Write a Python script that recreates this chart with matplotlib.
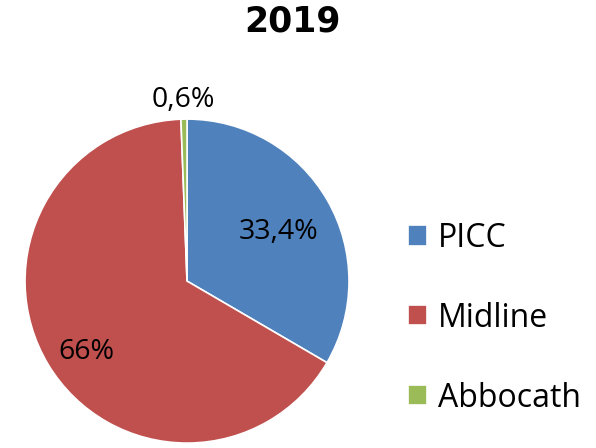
import matplotlib
matplotlib.use("Agg")
import matplotlib.pyplot as plt
import numpy as np

title = "2019"
categories = ["PICC", "Midline", "Abbocath"]
values = [33.4, 66.0, 0.6]
labels = ["33,4%", "66%", "0,6%"]
colors = ["#4F81BD", "#C0504D", "#9BBB59"]

plt.rcParams['font.family'] = ['Open Sans', 'DejaVu Sans']

fig = plt.figure(figsize=(5.96, 4.48), dpi=100)
ax = fig.add_axes([0.042, 0.011, 0.5436, 0.7232])
wedges, _ = ax.pie(values, colors=colors, startangle=90, counterclock=False,
                   wedgeprops=dict(edgecolor="white", linewidth=1.2))
ax.set_xlim(-1, 1)
ax.set_ylim(-1, 1)
ax.set_aspect('equal')

# label placements (radius, angle offset) mimicking Excel best-fit
label_pos = [(0.64, -1.9), (0.76, 4.5), (1.12, 0.0)]
for w, lab, (r, dth) in zip(wedges, labels, label_pos):
    mid = np.deg2rad((w.theta1 + w.theta2) / 2 + dth)
    if lab == "0,6%":
        mid = np.deg2rad(91.3)
    ax.text(r * np.cos(mid), r * np.sin(mid), lab, ha='center', va='center',
            fontsize=20.5, color='black', clip_on=False)

fig.text(0.490, 0.952, title, ha='center', va='center', fontsize=25,
         fontweight='bold', family='DejaVu Sans')

leg = fig.legend(wedges, categories, loc='center left', bbox_to_anchor=(0.636, 0.29),
                 frameon=False, fontsize=23, handlelength=0.6, handleheight=0.6,
                 labelspacing=1.47, handletextpad=0.34)

fig.savefig("out.png", dpi=100)
